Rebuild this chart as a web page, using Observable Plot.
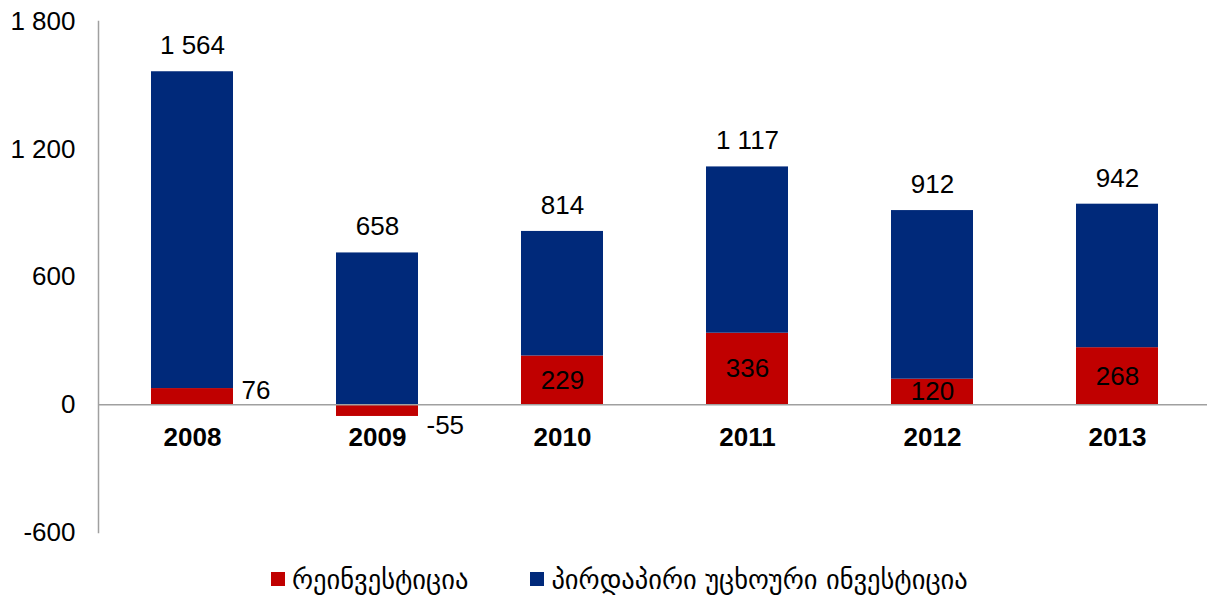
<!DOCTYPE html>
<html>
<head>
<meta charset="utf-8">
<script src="https://cdn.jsdelivr.net/npm/d3@7"></script>
<script src="https://cdn.jsdelivr.net/npm/@observablehq/plot@0.6"></script>
<style>
  html, body { margin: 0; padding: 0; background: #fff; }
  body { width: 1207px; height: 604px; overflow: hidden; font-family: "Liberation Sans", Arial, "DejaVu Sans", sans-serif; }
  #legend { position: relative; height: 50px; display: flex; align-items: center; padding-left: 271px; font-size: 26.5px; font-family: "DejaVu Sans", "Liberation Sans", sans-serif; color: #000; }
  .item { display: flex; align-items: center; margin-right: 62px; }
  .sw { width: 14px; height: 14px; margin-right: 7px; }
</style>
</head>
<body>
<div id="chart"></div>
<div id="legend"></div>
<script>
const years = ["2008", "2009", "2010", "2011", "2012", "2013"];
const reinvest = [76, -55, 229, 336, 120, 268];
const fdiTotal = [1564, 658, 814, 1117, 912, 942];
const seriesNames = ["რეინვესტიცია", "პირდაპირი უცხოური ინვესტიცია"];
const seriesColors = ["#c00000", "#00297a"];
const yTicks = [-600, 0, 600, 1200, 1800];

const locale = d3.formatLocale({decimal: ".", thousands: " ", grouping: [3], currency: ["", ""], minus: "-"});
const fmt = locale.format(",");

const rows = [];
years.forEach((y, i) => {
  rows.push({year: y, series: seriesNames[0], value: reinvest[i]});
  rows.push({year: y, series: seriesNames[1], value: fdiTotal[i] - reinvest[i]});
});
const info = years.map((y, i) => ({year: y, reinvest: reinvest[i], total: fdiTotal[i], top: fdiTotal[i] - Math.min(reinvest[i], 0)}));
const inside = info.filter(d => Math.abs(d.reinvest) >= 100);
const outsidePos = info.filter(d => Math.abs(d.reinvest) < 100 && d.reinvest > 0);
const outsideNeg = info.filter(d => Math.abs(d.reinvest) < 100 && d.reinvest < 0);

const FS = 26;
const chart = Plot.plot({
  width: 1207,
  height: 554,
  marginLeft: 98,
  marginRight: 0,
  marginTop: 21,
  marginBottom: 22,
  style: {fontFamily: "'Liberation Sans', Arial, sans-serif", fontSize: FS + "px", color: "#000", background: "#fff"},
  x: {domain: years, range: [98.35, 1210], paddingInner: 0.557, paddingOuter: 0.2787, axis: null},
  y: {domain: [-600, 1800], ticks: yTicks, tickFormat: fmt},
  color: {domain: seriesNames, range: seriesColors},
  marks: [
    Plot.axisY({ticks: yTicks, tickFormat: fmt, tickSize: 0, tickPadding: 23, fontSize: FS, label: null}),
    Plot.barY(rows, Plot.stackY({x: "year", y: "value", fill: "series", order: seriesNames})),
    Plot.frame({anchor: "left", stroke: "#a0a0a0", strokeWidth: 1.5}),
    Plot.ruleY([0], {stroke: "#a0a0a0", strokeWidth: 1.5}),
    Plot.text(years, {x: d => d, y: 0, dy: 33, text: d => d, fontWeight: "bold", fontSize: FS}),
    Plot.text(info, {x: "year", y: "top", dy: -26, text: d => fmt(d.total), fontSize: FS}),
    Plot.text(inside, {x: "year", y: d => d.reinvest / 2, dy: 0, text: d => fmt(d.reinvest), fontSize: FS}),
    Plot.text(outsidePos, {x: "year", y: "reinvest", dx: 49, dy: 2, textAnchor: "start", text: d => fmt(d.reinvest), fontSize: FS}),
    Plot.text(outsideNeg, {x: "year", y: "reinvest", dx: 49, dy: 9, textAnchor: "start", text: d => fmt(d.reinvest), fontSize: FS})
  ]
});
document.getElementById("chart").appendChild(chart);

const lg = document.getElementById("legend");
seriesNames.forEach((n, i) => {
  const it = document.createElement("div");
  it.className = "item";
  const sw = document.createElement("div");
  sw.className = "sw";
  sw.style.background = seriesColors[i];
  const t = document.createElement("span");
  t.textContent = n;
  it.appendChild(sw);
  it.appendChild(t);
  lg.appendChild(it);
});
</script>
</body>
</html>
